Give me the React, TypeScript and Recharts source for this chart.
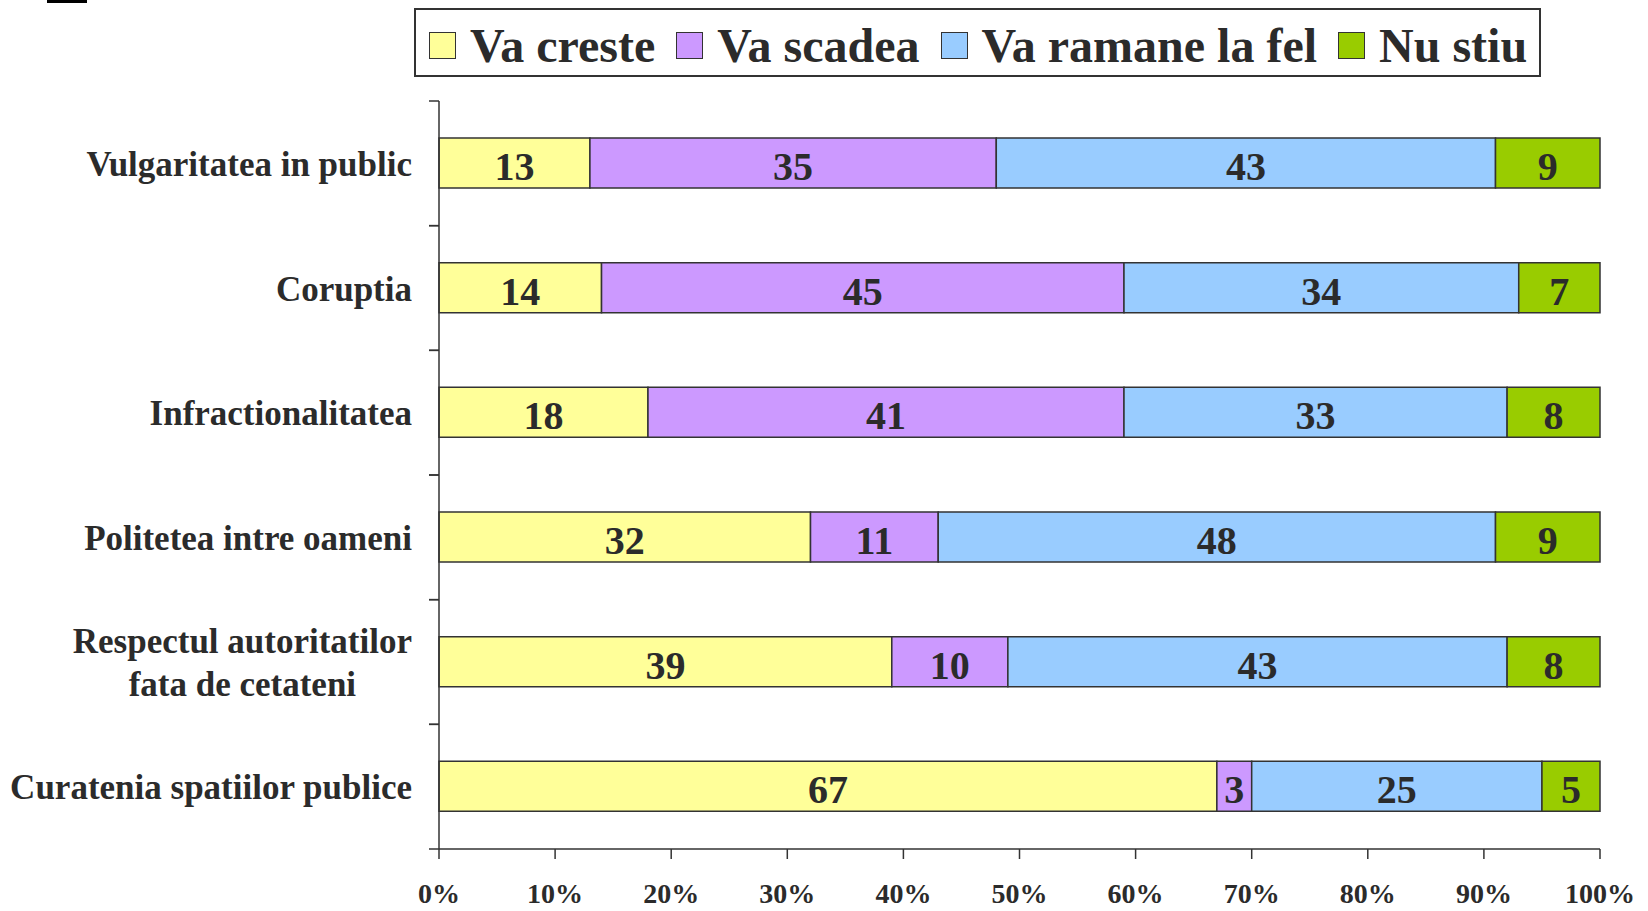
import React from "react";
import { BarChart, Bar, XAxis, YAxis, LabelList } from "recharts";

const categories = [
  "Vulgaritatea in public",
  "Coruptia",
  "Infractionalitatea",
  "Politetea intre oameni",
  "Respectul autoritatilor\nfata de cetateni",
  "Curatenia spatiilor publice",
];
const vaCreste = [13, 14, 18, 32, 39, 67];
const vaScadea = [35, 45, 41, 11, 10, 3];
const vaRamane = [43, 34, 33, 48, 43, 25];
const nuStiu = [9, 7, 8, 9, 8, 5];
const seriesNames = ["Va creste", "Va scadea", "Va ramane la fel", "Nu stiu"];
const seriesKeys = ["s0", "s1", "s2", "s3"];
const seriesColors = ["#FFFF99", "#CC99FF", "#99CCFF", "#99CC00"];
const xTicks = [0, 10, 20, 30, 40, 50, 60, 70, 80, 90, 100];

const data = categories.map((name, i) => ({
  name,
  s0: vaCreste[i],
  s1: vaScadea[i],
  s2: vaRamane[i],
  s3: nuStiu[i],
}));

const FONT = "'Liberation Serif', 'Times New Roman', serif";
const TEXT = "#2b2b2b";
const LINE = "#333333";

const CatTick = (props: any) => {
  const { x, y, payload } = props;
  const half = payload && typeof payload.offset === "number" ? payload.offset : 0;
  const w = 420;
  const h = 100;
  return (
    <g>
      {half > 0 && (
        <>
          <line x1={x - 10} x2={x} y1={y - half} y2={y - half} stroke={LINE} strokeWidth={1.5} />
          <line x1={x - 10} x2={x} y1={y + half} y2={y + half} stroke={LINE} strokeWidth={1.5} />
        </>
      )}
      <foreignObject x={x - 27 - w} y={y - h / 2} width={w} height={h}>
        <div
          style={{
            width: "100%",
            height: "100%",
            display: "flex",
            alignItems: "center",
            justifyContent: "flex-end",
            paddingTop: 2,
            boxSizing: "border-box",
          }}
        >
          <div
            style={{
              textAlign: "center",
              whiteSpace: "pre-line",
              fontFamily: FONT,
              fontWeight: "bold",
              fontSize: 35,
              lineHeight: "43px",
              color: TEXT,
            }}
          >
            {payload.value}
          </div>
        </div>
      </foreignObject>
    </g>
  );
};

const ValueLabel = (props: any) => {
  const { x, y, width, height, value } = props;
  return (
    <text
      x={x + width / 2}
      y={y + height / 2 + 17}
      textAnchor="middle"
      fontFamily={FONT}
      fontWeight="bold"
      fontSize={40}
      fill={TEXT}
    >
      {value}
    </text>
  );
};

const LegendBox = () => (
  <div
    style={{
      position: "absolute",
      left: 414,
      top: 8,
      width: 1127,
      height: 69,
      boxSizing: "border-box",
      border: `2px solid ${LINE}`,
      background: "#fff",
      display: "flex",
      alignItems: "center",
      paddingLeft: 13,
      paddingTop: 6,
    }}
  >
    {seriesNames.map((n, i) => (
      <div key={n} style={{ display: "flex", alignItems: "center", marginRight: 21 }}>
        <div
          style={{
            width: 27,
            height: 27,
            boxSizing: "border-box",
            border: `1.5px solid ${LINE}`,
            background: seriesColors[i],
            marginRight: 14,
          }}
        />
        <span
          style={{
            fontFamily: FONT,
            fontWeight: "bold",
            fontSize: 48,
            lineHeight: "48px",
            color: TEXT,
            whiteSpace: "nowrap",
          }}
        >
          {n}
        </span>
      </div>
    ))}
  </div>
);

export default function App() {
  return (
    <div style={{ position: "absolute", left: 0, top: 0, width: 1648, height: 911, background: "#fff" }}>
      <div style={{ position: "absolute", left: 47, top: 0, width: 40, height: 3, background: "#000" }} />
      <BarChart
        width={1648}
        height={911}
        data={data}
        layout="vertical"
        margin={{ top: 101, right: 48, bottom: 0, left: 9 }}
      >
        <XAxis
          type="number"
          domain={[0, 100]}
          ticks={xTicks}
          tickFormatter={(v: number) => `${v}%`}
          height={62}
          tickSize={10}
          tickMargin={24}
          axisLine={{ stroke: LINE, strokeWidth: 1.5 }}
          tickLine={{ stroke: LINE, strokeWidth: 1.5 }}
          tick={{ fontFamily: FONT, fontWeight: "bold", fontSize: 28, fill: TEXT }}
          interval={0}
        />
        <YAxis
          type="category"
          dataKey="name"
          width={430}
          axisLine={{ stroke: LINE, strokeWidth: 1.5 }}
          tickLine={false}
          tickSize={0}
          tickMargin={0}
          interval={0}
          tick={<CatTick />}
        />
        {seriesKeys.map((k, i) => (
          <Bar
            key={k}
            dataKey={k}
            name={seriesNames[i]}
            stackId="s"
            fill={seriesColors[i]}
            stroke={LINE}
            strokeWidth={1.5}
            barSize={50}
            isAnimationActive={false}
          >
            <LabelList dataKey={k} content={<ValueLabel />} />
          </Bar>
        ))}
      </BarChart>
      <LegendBox />
    </div>
  );
}
